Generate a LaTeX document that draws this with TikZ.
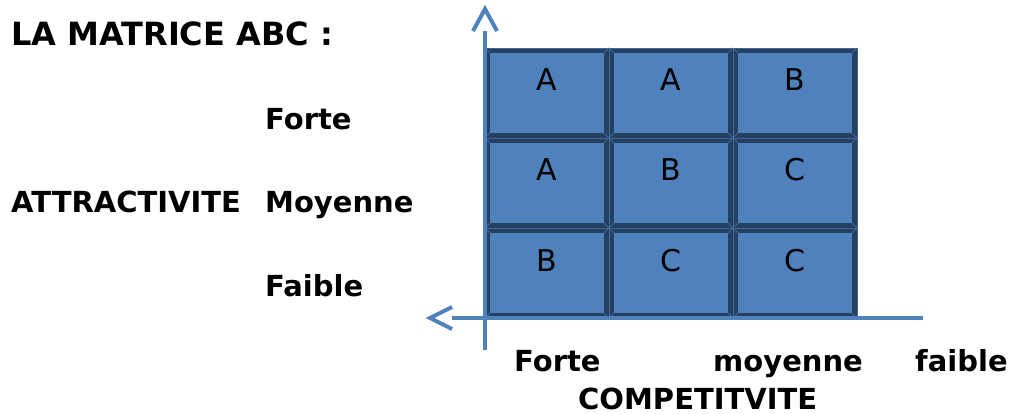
\documentclass[tikz,border=0pt]{standalone}
\usepackage{fontspec}
\setmainfont{DejaVu Sans}
\definecolor{cellfill}{HTML}{4F81BD}
\definecolor{celldraw}{HTML}{243F60}
\definecolor{bevelcol}{HTML}{3F6797}
\definecolor{axiscol}{HTML}{4F81BD}
\tikzset{
  cell/.style={draw=celldraw, fill=cellfill, line width=5pt, minimum width=119pt, minimum height=85pt,
    inner sep=0pt, text height=23pt, text depth=27pt, font=\fontsize{30pt}{36pt}\selectfont},
  lab/.style={anchor=base west, inner sep=0pt, font=\bfseries\fontsize{29pt}{34pt}\selectfont},
  axis/.style={draw=axiscol, line width=4pt},
  bevel/.style={draw=bevelcol, line width=0.8pt},
}
\begin{document}
\begin{tikzpicture}[x=1pt,y=-1pt]
\useasboundingbox (0,0) rectangle (1012,414);
% cells
\node[cell] (c11) at (547,93) {A};
\node[cell] (c12) at (671,93) {A};
\node[cell] (c13) at (795,93) {B};
\node[cell] (c21) at (547,183) {A};
\node[cell] (c22) at (671,183) {B};
\node[cell] (c23) at (795,183) {C};
\node[cell] (c31) at (547,273) {B};
\node[cell] (c32) at (671,273) {C};
\node[cell] (c33) at (795,273) {C};
\foreach \n in {c11,c12,c13,c21,c22,c23,c31,c32,c33}{
  \draw[bevel] (\n.north west) rectangle (\n.south east);
  \draw[bevel] (\n.north west) -- ++(5,5);
  \draw[bevel] (\n.north east) -- ++(-5,5);
  \draw[bevel] (\n.south west) -- ++(5,-5);
  \draw[bevel] (\n.south east) -- ++(-5,-5);
}
% axes
\coordinate (vbot) at (485,350);
\coordinate (vtop) at (485,31);
\coordinate (vtip) at (485,9);
\coordinate (hright) at (923,318);
\coordinate (hleft) at (452,318);
\coordinate (htip) at (430,318);
\draw[axis] (vbot) -- (vtop);
\draw[axis, miter limit=10] ([xshift=-12pt]vtop) -- (vtip) -- ([xshift=12pt]vtop);
\draw[axis] (hright) -- (hleft);
\draw[axis, miter limit=10] ([yshift=11pt]hleft) -- (htip) -- ([yshift=-11pt]hleft);
% labels
\node[lab, font=\bfseries\fontsize{32pt}{36pt}\selectfont] (title) at (11,46) {LA MATRICE ABC :};
\node[lab] (attr) at (11,213) {ATTRACTIVITE};
\node[lab] (rforte) at (265,130) {Forte};
\node[lab] (rmoy) at (265,213) {Moyenne};
\node[lab] (rfaible) at (265,296) {Faible};
\node[lab] (cforte) at (514,371) {Forte};
\node[lab] (cmoy) at (713,371) {moyenne};
\node[lab] (cfaible) at (915,371) {faible};
\node[lab] (comp) at (578,409) {COMPETITVITE};
\end{tikzpicture}
\end{document}
